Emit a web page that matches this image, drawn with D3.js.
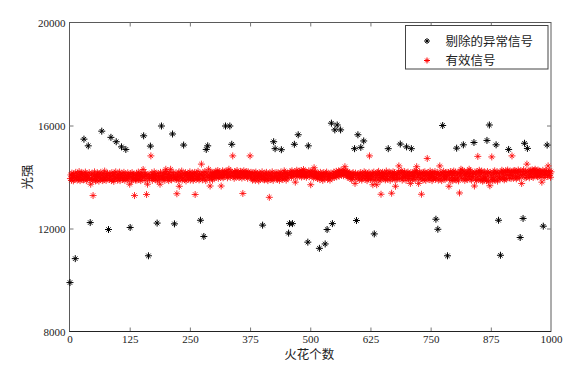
<!DOCTYPE html>
<html>
<head>
<meta charset="utf-8">
<script src="https://cdn.jsdelivr.net/npm/d3@7"></script>
<style>
body { margin:0; background:#fff; }
svg { display:block; }
.tick-label { font-family:"Liberation Serif","DejaVu Serif",serif; font-size:11px; fill:#222; }
.cjk { font-family:"Noto Sans CJK SC",sans-serif; fill:#222; }
</style>
</head>
<body>
<svg width="578" height="367"></svg>
<script>
// removed (abnormal) signals: spark index and intensity
var removedIdx = [1,12,30,39,43,67,81,86,97,108,117,126,154,164,168,182,191,214,218,237,
    272,279,284,287,324,333,337,401,424,427,440,455,457,463,467,475,495,496,519,531,
    535,544,546,551,556,563,592,596,599,605,611,633,662,687,700,710,761,765,775,785,
    804,818,840,867,872,886,891,895,912,936,942,945,951,984,992];
var removedVal = [9900,10830,15470,15210,12230,15780,11960,15540,15370,15170,15070,12040,15600,10940,15200,12210,15980,15670,12180,15240,
    12320,11690,15070,15210,15980,15980,15270,12130,15370,15100,15060,11820,12190,12190,15270,15640,11470,15210,11230,11400,
    11960,16090,12190,15830,16020,15830,15100,12310,15640,15150,15400,11790,15100,15280,15170,15100,12360,11970,16000,10940,
    15120,15250,15340,15420,16020,15250,12320,10960,15070,11650,12390,15310,15110,12090,15240];

// valid signals, in spark order (the indices not removed)
var validVal = [
13940,14080,13870,14150,13990,14060,13850,14120,14010,13910,14180,13960,14040,13880,14130,14000,13920,14210,14050,13860,14100,13970,14160,13900,14030,
14150,13890,14070,13950,14190,14020,13860,14110,13930,14060,13980,14170,13900,13720,14080,13940,14140,13870,13280,14050,13910,14200,14000,13850,14090,
14030,13880,14160,13970,14090,13840,14120,14010,13920,14180,13950,14070,13860,14140,14000,13900,14230,13960,14050,13870,14110,13990,14150,13930,14060,
13920,14130,14000,13860,14170,14040,13900,14090,13830,14150,14010,13940,14200,13970,14080,13880,14120,14030,13950,14190,13860,14060,13980,14140,13910,
14070,13930,14180,14000,13870,14110,13960,14050,13890,14160,13940,14080,14020,13720,14130,13990,13850,14170,14040,13910,14100,13960,13280,14060,13880,
13950,14140,13880,14060,14010,14190,13900,14080,13970,14120,13860,14030,14170,13930,14050,14290,13990,14110,13870,14150,14020,13320,14080,13720,13940,
14100,13920,14050,14820,13980,14160,13870,14090,14010,13940,14200,13960,14070,13890,14130,14020,13850,14140,13990,14060,13910,13720,14180,14030,13950,
14040,13900,14170,13960,14090,13870,14130,14300,13980,14210,14020,13930,14100,13860,14150,14000,13950,14300,14060,13890,14180,13970,14110,14030,13920,
13980,14160,13910,13350,14080,14020,13870,14190,13640,14050,13940,14120,13990,14230,13880,14070,13960,14140,13900,14040,14170,13850,14090,13970,14110,
14060,13920,14140,13990,14200,13880,14080,14030,13950,14160,14010,13870,14110,13940,14180,13320,14050,13900,14130,14000,13960,14220,14040,13890,14100,
13930,14120,14500,14060,13890,14170,14000,13950,14210,14090,13860,14150,14030,13980,14300,14070,13910,13650,14190,14040,13970,14130,13880,14180,14020,
14100,13960,14180,14040,14220,13990,14140,14070,14250,13950,14160,14030,14200,14090,13980,13650,14120,14060,14240,13970,14150,14010,14190,14080,14230,
14080,14200,13970,14150,14050,14300,14110,13990,14230,14060,14170,14820,14020,14140,13950,14210,14070,14180,14000,14120,14250,14030,14160,14090,13980,
14130,14010,14220,14070,14160,13960,14190,13360,14050,14240,14100,13990,14170,14080,14210,14020,14140,13950,14200,14060,14150,14090,14820,14000,14180,
13960,14110,13880,14170,14030,13920,14150,14000,13870,14190,14060,13940,14130,13990,14080,13850,14160,14020,13910,14120,14050,13970,14200,13900,14070,
14000,13890,14140,13950,14080,14180,13920,14040,13860,14110,13970,13210,14160,14030,13900,14090,13940,14200,14010,13870,14130,13990,14060,14170,13930,
14050,13910,14160,13980,14120,13870,14090,14030,14190,13940,14070,13900,14140,14010,14240,13960,14180,14040,13880,14110,14000,14150,13950,14080,14200,
14090,14180,13990,14240,14060,14150,14020,14210,13800,14130,14070,14260,14010,14190,14100,14230,14040,14170,14080,14250,14000,14200,14120,14050,14290,
14140,14030,14220,14080,14190,13990,14160,14060,14240,14010,14120,14200,13700,14070,14180,14020,14230,14100,13960,14360,14150,14050,14210,13980,14110,
14060,13940,14150,14010,14090,13900,14180,14030,13960,14120,14050,13870,14170,14000,14100,13930,14140,14020,14190,13910,14080,13970,14130,14040,13880,
14020,14150,13950,14100,14060,14190,13980,14130,14040,14220,14010,14170,14080,14240,14030,14200,14110,14260,14070,14180,14130,14230,14050,14270,14150,
14400,14120,14230,14060,14180,13990,14210,14080,14140,14020,14160,13940,14100,14050,13900,14130,13980,14170,14010,14090,13750,14150,13930,14060,14110,
13970,14120,13900,14060,14170,14010,13880,14140,13950,14080,14200,14030,13920,14160,13990,14070,13860,14130,14020,13940,14180,14820,14050,13910,14100,
14040,13920,14150,13700,14010,14190,13870,14090,13960,14130,13700,14060,14170,13900,14220,13980,14110,13850,14050,13330,14140,13950,14180,14000,14070,
13930,14160,14020,13890,14110,14230,13960,14080,13910,14140,14190,14000,13870,14150,14040,13370,14120,13940,14200,13980,14060,14170,13900,13640,14100,
14030,13900,14140,13970,14200,14430,14090,13940,14160,14250,14010,13880,14180,14050,13950,14120,14210,13990,14070,13870,14150,14020,14190,13930,14080,
14100,13940,13750,14170,14020,13890,14150,14060,13960,14210,14080,13900,14190,14240,14400,13980,14130,14040,13750,14110,14200,13920,14070,14160,13330,
13960,14120,13880,14180,14030,13920,14200,14070,13870,14140,14010,14720,14160,13950,14090,13900,14050,14230,13970,14130,14080,13860,14170,14020,13940,
14140,13990,14210,13910,14090,13960,14170,13880,14120,14040,14430,13930,14190,14070,13860,14150,14010,14220,13950,14100,13900,14160,14030,13970,14180,
14050,14170,13640,13920,14110,14210,13870,14130,13990,14180,13860,14060,14230,13950,14140,13910,14190,13880,14080,13970,14150,13850,14160,13380,14040,
14190,14300,13960,14140,14260,13930,14090,14220,13870,14050,14170,13950,14130,13900,14200,14010,14150,14300,14080,13920,14240,14020,13880,14160,14110,
13970,14130,13650,14190,13920,14080,13860,14210,14000,14800,14160,13900,14260,14040,14180,13880,14110,14230,13940,13840,14170,14010,13870,14200,13990,
13940,14120,13860,14210,14030,13820,14150,13660,14180,13900,14070,14780,13980,13850,14190,14110,13930,14240,13870,14140,14020,14200,13840,14160,13960,
14080,13910,14190,13980,14260,14140,13930,14220,14040,13890,14170,13950,14240,14100,13920,14200,14270,14060,14180,13970,14230,14090,13940,14190,14820,
14050,14200,13950,14240,14150,14250,14010,14210,13930,14160,13990,14180,14270,14030,14190,13960,14230,14090,13750,14210,14060,14280,14120,13970,14220,
14160,13990,14500,14200,14060,14240,13970,14210,14100,14260,14150,14020,14280,14190,13980,14220,14250,14070,14300,14130,14240,14050,14200,14010,14270,
14180,14040,14230,14090,14210,13990,14170,13800,14130,14260,14070,14200,13980,14150,14250,14100,14220,14030,14430,14190,14060,14240,14120,13990,14200
];

var xTicks = [0,125,250,375,500,625,750,875,1000];
var yTicks = [8000,12000,16000,20000];
var legendLabels = ["剔除的异常信号","有效信号"];
var seriesColors = ["#000000","#ff0000"];

var margins = {left:69.5, right:27, top:22.5, bottom:35.5};
var screen = {width:578, height:367};
var graph = {
    width: screen.width - margins.left - margins.right,
    height: screen.height - margins.top - margins.bottom
};

var svg = d3.select("svg");

var xScale = d3.scaleLinear().domain([0,1000]).range([0,graph.width]);
var yScale = d3.scaleLinear().domain([8000,20000]).range([graph.height,0]);

// spark indices of the valid signals: everything that was not removed
var removedSet = new Set(removedIdx);
var validIdx = [];
for (var i = 1; i <= 1000 && validIdx.length < validVal.length; i++) {
    if (!removedSet.has(i)) validIdx.push(i);
}

var removed = removedIdx.map(function(d,i){ return {x:d, y:removedVal[i]}; });
var valid = validIdx.map(function(d,i){ return {x:d, y:validVal[i]}; });

// matlab style '*' marker
var star = function(r)
{
    var s = r*0.62;
    return "M"+(-r)+",0H"+r+"M0,"+(-r)+"V"+r+
           "M"+(-s)+","+(-s)+"L"+s+","+s+"M"+(-s)+","+s+"L"+s+","+(-s);
}

var plot = svg.append("g")
    .attr("transform","translate("+margins.left+","+margins.top+")");

// box and ticks
plot.append("rect")
    .attr("x",0).attr("y",0)
    .attr("width",graph.width).attr("height",graph.height)
    .attr("fill","none")
    .attr("stroke","#5a5a5a")
    .attr("stroke-width",1);

var xAxis = d3.axisBottom(xScale).tickValues(xTicks)
    .tickSizeInner(-4).tickSizeOuter(0).tickPadding(4)
    .tickFormat(d3.format("d"));
var xAxisTop = d3.axisTop(xScale).tickValues(xTicks)
    .tickSizeInner(-4).tickSizeOuter(0).tickFormat("");
var yAxis = d3.axisLeft(yScale).tickValues(yTicks)
    .tickSizeInner(-4).tickSizeOuter(0).tickPadding(4)
    .tickFormat(d3.format("d"));
var yAxisRight = d3.axisRight(yScale).tickValues(yTicks)
    .tickSizeInner(-4).tickSizeOuter(0).tickFormat("");

var gx = plot.append("g").attr("transform","translate(0,"+graph.height+")").call(xAxis);
var gxt = plot.append("g").call(xAxisTop);
var gy = plot.append("g").call(yAxis);
var gyr = plot.append("g").attr("transform","translate("+graph.width+",0)").call(yAxisRight);

[gx,gxt,gy,gyr].forEach(function(g){
    g.select(".domain").remove();
    g.selectAll(".tick line").attr("stroke","#777");
    g.selectAll(".tick text").attr("class","tick-label").attr("fill",null);
    g.select(".tick:first-of-type line").remove();
    g.select(".tick:last-of-type line").remove();
});
gx.selectAll(".tick text").attr("dy","0.66em");
gy.selectAll(".tick text").attr("dy","0.35em");

// bottom edge drawn darker
plot.append("line")
    .attr("x1",0).attr("x2",graph.width)
    .attr("y1",graph.height).attr("y2",graph.height)
    .attr("stroke","#222").attr("stroke-width",1);

// markers
plot.append("g")
    .selectAll("path")
    .data(removed)
    .enter()
    .append("path")
    .attr("d",star(3.5))
    .attr("transform",function(d){ return "translate("+xScale(d.x)+","+yScale(d.y)+")"; })
    .attr("stroke",seriesColors[0])
    .attr("stroke-width",1)
    .attr("fill","none");

plot.append("g")
    .selectAll("path")
    .data(valid)
    .enter()
    .append("path")
    .attr("d",star(3.5))
    .attr("transform",function(d){ return "translate("+xScale(d.x)+","+yScale(d.y)+")"; })
    .attr("stroke",seriesColors[1])
    .attr("stroke-width",1)
    .attr("stroke-opacity",0.8)
    .attr("fill","none");

// axis labels
svg.append("text")
    .attr("class","cjk")
    .attr("font-size",12.5)
    .attr("text-anchor","middle")
    .attr("x",margins.left+graph.width/2 - 1)
    .attr("y",359)
    .text("火花个数");

svg.append("g")
    .attr("transform","translate(32,177)")
    .append("text")
    .attr("class","cjk")
    .attr("font-size",12.5)
    .attr("text-anchor","middle")
    .attr("transform","rotate(-90)")
    .text("光强");

// legend
var legend = svg.append("g").attr("transform","translate(405.5,25.5)");
legend.append("rect")
    .attr("width",142.5).attr("height",43.5)
    .attr("fill","#fff")
    .attr("stroke","#444")
    .attr("stroke-width",1);
var rows = legend.selectAll(".row")
    .data(legendLabels)
    .enter()
    .append("g")
    .attr("transform",function(d,i){ return "translate(0,"+(15.5+i*19.5)+")"; });
rows.append("path")
    .attr("d",star(3))
    .attr("transform","translate(21.5,0)")
    .attr("stroke",function(d,i){ return seriesColors[i]; })
    .attr("fill","none");
rows.append("text")
    .attr("class","cjk")
    .attr("font-size",12.5)
    .attr("x",40)
    .attr("dy","0.36em")
    .text(function(d){ return d; });
</script>
</body>
</html>
